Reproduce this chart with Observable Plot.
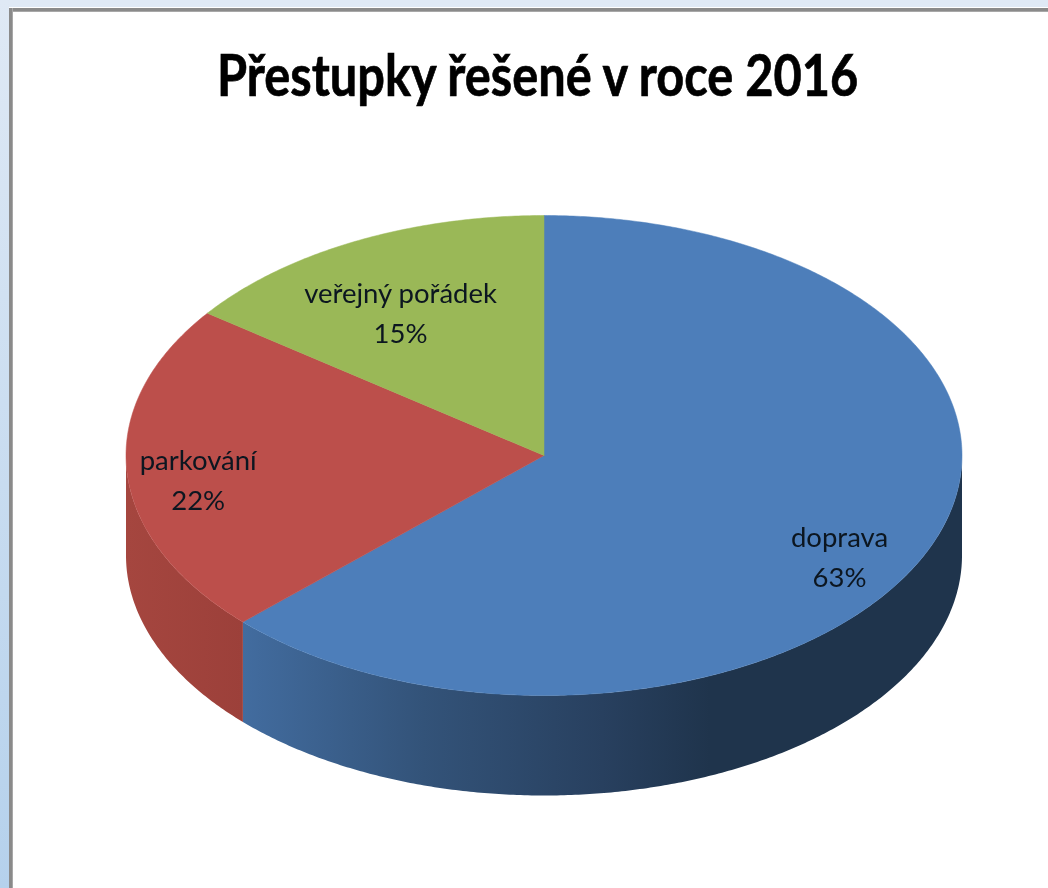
<!DOCTYPE html>
<html lang="cs">
<head>
<meta charset="utf-8">
<script src="https://cdn.jsdelivr.net/npm/d3@7"></script>
<script src="https://cdn.jsdelivr.net/npm/@observablehq/plot@0.6"></script>
<style>
  html, body { margin: 0; padding: 0; background: #fff; overflow: hidden; }
  #page { position: relative; width: 1048px; height: 888px; overflow: hidden; }
  #bandTop { position: absolute; left: 0; top: 0; width: 1048px; height: 7px; background: #dfe9f5; }
  #bandLeft { position: absolute; left: 0; top: 0; width: 9px; height: 888px; background: linear-gradient(#dfe9f5, #b5d1ec); }
  #edgeTop { position: absolute; left: 9px; top: 8px; right: 0; height: 4px; background: linear-gradient(#8a8a8a, #8a8a8a 70%, #bdbdbd); }
  #edgeLeft { position: absolute; left: 9px; top: 8px; bottom: 0; width: 4px; background: linear-gradient(90deg, #8a8a8a, #8a8a8a 70%, #bdbdbd); }
  #title { position: absolute; left: 0; top: 0; width: 1048px; height: 120px; margin: 0;
    font: 700 58px/148px Lato, sans-serif; color: #000; text-align: center; white-space: nowrap; }
  #title span { display: inline-block; transform: translateX(14px) scaleX(0.84); -webkit-text-stroke: 0.7px #000; filter: blur(0.6px); }
  #chart { position: absolute; left: 0; top: 120px; }
  #chart svg { display: block; background: transparent; }
</style>
</head>
<body>
<div id="page">
  <div id="bandTop"></div><div id="bandLeft"></div><div id="edgeTop"></div><div id="edgeLeft"></div>
  <h1 id="title"><span>Přestupky řešené v roce 2016</span></h1>
  <div id="chart"></div>
</div>
<script>
const categories = ["doprava", "parkování", "veřejný pořádek"];
const shares = [62.8, 22.3, 14.9];

const topColors = ["#4d7eba", "#bc4f4b", "#9ab857"];
const labelPlacement = [
  {radius: 0.75, dx: 7, dy: 28},
  {radius: 0.75, dx: -33, dy: 10},
  {radius: 0.75, dx: -2, dy: 15}
];
const depth = 100 / 240;
const step = 0.5;

// angles run clockwise from 12 o'clock, in degrees
const rad = (a) => (a * Math.PI) / 180;
const rim = (a, drop = 0) => ({x: Math.sin(rad(a)), y: Math.cos(rad(a)) - drop});
const sweep = (a0, a1) => {
  const out = [];
  const n = Math.ceil(Math.abs(a1 - a0) / step);
  for (let i = 0; i <= n; ++i) out.push(a0 + ((a1 - a0) * i) / n);
  return out;
};

let acc = 0;
const slices = categories.map((name, i) => {
  const start = (acc / 100) * 360;
  acc += shares[i];
  const end = (acc / 100) * 360;
  return {name, share: Math.round(shares[i]), start, end, mid: (start + end) / 2, color: topColors[i], place: labelPlacement[i]};
});

const wedge = (s) => [{x: 0, y: 0}, ...sweep(s.start, s.end).map((a) => rim(a)), {x: 0, y: 0}];
// the visible wall is the part of the rim on the front half (90°..270°)
const wall = (s) => {
  const a0 = Math.max(s.start, 90), a1 = Math.min(s.end, 270);
  if (a1 <= a0) return [];
  const angles = sweep(a0, a1);
  return [...angles.map((a) => rim(a)), ...angles.slice().reverse().map((a) => rim(a, depth))];
};

const defs = () => {
  const svg = d3.create("svg:defs");
  const add = (id, stops) => {
    const g = svg.append("linearGradient").attr("id", id).attr("x1", 0).attr("x2", 1).attr("y1", 0).attr("y2", 0);
    stops.forEach(([o, c]) => g.append("stop").attr("offset", o).attr("stop-color", c));
  };
  add("wallBlue", [[0, "#426c9f"], [0.25, "#335379"], [0.5, "#28405f"], [0.65, "#1f344c"], [1, "#1f344c"]]);
  add("wallRed", [[0, "#a5463f"], [1, "#9c403a"]]);
  return svg.node();
};

const wallFills = ["url(#wallBlue)", "url(#wallRed)", "none"];

const plot = Plot.plot({
  width: 1048,
  height: 768,
  margin: 0,
  x: {domain: [-1, 1], range: [125.5, 961.5], axis: null},
  y: {domain: [-1, 1], range: [575, 95], axis: null},
  marks: [
    defs,
    ...slices.map((s, i) => wall(s).length
      ? Plot.line(wall(s), {x: "x", y: "y", fill: wallFills[i], stroke: "none", curve: "linear"})
      : null),
    ...slices.map((s) => Plot.line(wedge(s), {x: "x", y: "y", fill: s.color, stroke: s.color, strokeWidth: 0.5, curve: "linear"})),
    ...slices.map((s) => {
      const p = rim(s.mid);
      return Plot.text([`${s.name}\n${s.share}%`], {
        x: [p.x * s.place.radius],
        y: [p.y * s.place.radius],
        text: (d) => d,
        dx: s.place.dx,
        dy: s.place.dy,
        fontSize: 27.5,
        lineHeight: 1.45,
        fontFamily: "Lato, sans-serif",
        fill: "#0c1620",
        imageFilter: "blur(0.4px)"
      });
    })
  ]
});
document.getElementById("chart").append(plot);
</script>
</body>
</html>
